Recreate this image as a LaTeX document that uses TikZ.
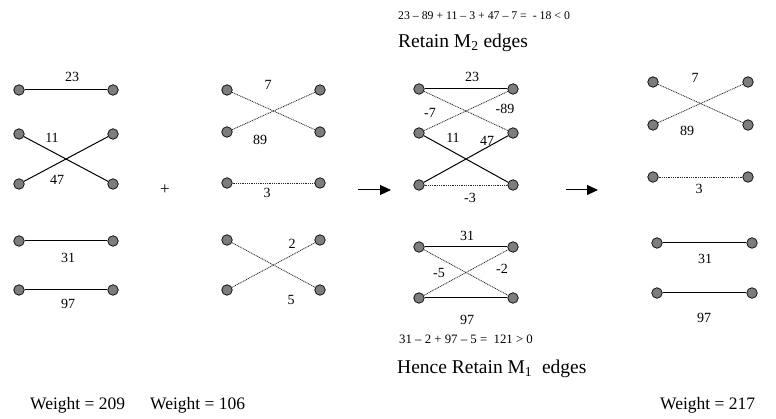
\documentclass[tikz,border=0pt]{standalone}
\usepackage{fontspec}
\setmainfont{Liberation Serif}
\usetikzlibrary{arrows.meta}
\definecolor{nodegray}{RGB}{125,125,125}
\begin{document}
\begin{tikzpicture}[x=1pt,y=-1pt,
  v/.style={circle,draw=black,line width=0.7pt,fill=nodegray,inner sep=0pt,minimum width=10.5pt,minimum height=9.5pt},
  sol/.style={draw=black,line width=1pt},
  dot/.style={draw=black!85,line width=0.8pt,dash pattern=on 1pt off 0.8pt},
  lab/.style={font=\fontsize{14}{14}\selectfont,inner sep=0pt},
  eq/.style={font=\fontsize{11.8}{11.8}\selectfont,inner sep=0pt,anchor=west},
  big/.style={font=\fontsize{17.5}{17.5}\selectfont,inner sep=0pt,anchor=west},
  bigger/.style={font=\fontsize{19.5}{19.5}\selectfont,inner sep=0pt,anchor=west},
  arr/.style={draw=black,line width=1pt,-{Triangle[length=11pt,width=10pt]}}]
\useasboundingbox (0,0) rectangle (776,419);
% ---------- panel 1
\foreach \n/\y in {1/90,2/134,3/184,4/241,5/290}{
  \node[v] (a\n L) at (19,\y) {};
  \node[v] (a\n R) at (113,\y) {};
}
\draw[sol] (a1L) -- (a1R);
\draw[sol] (a2L) -- (a3R);
\draw[sol] (a3L) -- (a2R);
\draw[sol] (a4L) -- (a4R);
\draw[sol] (a5L) -- (a5R);
\node[lab] (la1) at (72,77) {23};
\node[lab] (la2) at (52,138) {11};
\node[lab] (la3) at (57,180) {47};
\node[lab] (la4) at (68,258) {31};
\node[lab] (la5) at (68,304) {97};
\node[lab,font=\fontsize{17}{17}\selectfont] (plus) at (165,190) {+};
% ---------- panel 2
\foreach \n/\y in {1/90,2/132,3/183,4/240,5/290}{
  \node[v] (b\n L) at (227,\y) {};
  \node[v] (b\n R) at (320,\y) {};
}
\draw[dot] (b1L) -- (b2R);
\draw[dot] (b2L) -- (b1R);
\draw[dot] (b3L) -- (b3R);
\draw[dot] (b4L) -- (b5R);
\draw[dot] (b5L) -- (b4R);
\node[lab] (lb1) at (268,85) {7};
\node[lab] (lb2) at (260,140) {89};
\node[lab] (lb3) at (267,193) {3};
\node[lab] (lb4) at (292,244) {2};
\node[lab] (lb5) at (291,300) {5};
% arrows
\coordinate (ar1s) at (358,190);
\coordinate (ar1e) at (391,190);
\draw[arr] (ar1s) -- (ar1e);
\coordinate (ar2s) at (566,190);
\coordinate (ar2e) at (598,190);
\draw[arr] (ar2s) -- (ar2e);
% ---------- panel 3
\foreach \n/\y in {1/89,2/133,3/185,4/247,5/298}{
  \node[v] (c\n L) at (419,\y) {};
  \node[v] (c\n R) at (513,\y) {};
}
\draw[sol] (c1L) -- (c1R);
\draw[dot] (c1L) -- (c2R);
\draw[dot] (c2L) -- (c1R);
\draw[sol] (c2L) -- (c3R);
\draw[sol] (c3L) -- (c2R);
\draw[dot] (c3L) -- (c3R);
\draw[sol] (c4L) -- (c4R);
\draw[sol] (c5L) -- (c5R);
\draw[dot] (c4L) -- (c5R);
\draw[dot] (c5L) -- (c4R);
\node[lab] (lc1) at (472,77) {23};
\node[lab] (lc2) at (430,113) {-7};
\node[lab] (lc3) at (505,109) {-89};
\node[lab] (lc4) at (453,138) {11};
\node[lab] (lc5) at (487,141) {47};
\node[lab] (lc6) at (470,198) {-3};
\node[lab] (lc7) at (467,236) {31};
\node[lab] (lc8) at (439,273) {-5};
\node[lab] (lc9) at (502,269) {-2};
\node[lab] (lc10) at (467,320) {97};
% ---------- panel 4
\foreach \n/\y in {1/82,2/125,3/177}{
  \node[v] (d\n L) at (653,\y) {};
  \node[v] (d\n R) at (748,\y) {};
}
\foreach \n/\y in {4/243,5/293}{
  \node[v] (d\n L) at (657,\y) {};
  \node[v] (d\n R) at (752,\y) {};
}
\draw[dot] (d1L) -- (d2R);
\draw[dot] (d2L) -- (d1R);
\draw[dot] (d3L) -- (d3R);
\draw[sol] (d4L) -- (d4R);
\draw[sol] (d5L) -- (d5R);
\node[lab] (ld1) at (695,78) {7};
\node[lab] (ld2) at (687,131) {89};
\node[lab] (ld3) at (699,189) {3};
\node[lab] (ld4) at (705,259) {31};
\node[lab] (ld5) at (704,318) {97};
% ---------- texts
\node[eq] (eqtop) at (398,16) {23 – 89 + 11 – 3 + 47 – 7 = \ - 18 < 0};
\node[bigger] (ret2) at (398,43) {Retain M\textsubscript{2} edges};
\node[eq,font=\fontsize{12.8}{12.8}\selectfont] (eqbot) at (399,339) {31 – 2 + 97 – 5 = \ 121 > 0};
\node[bigger] (ret1) at (397,369) {Hence Retain M\textsubscript{1} \ edges};
\node[big] (w1) at (30,405) {Weight = 209};
\node[big] (w2) at (150,405) {Weight = 106};
\node[big] (w3) at (660,405) {Weight = 217};
\end{tikzpicture}
\end{document}
